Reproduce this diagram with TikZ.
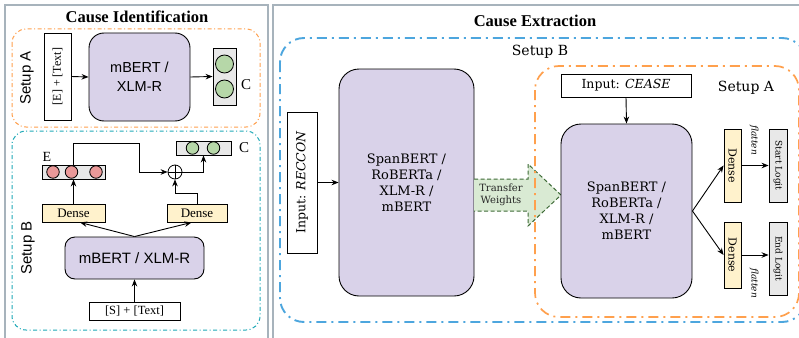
\documentclass[tikz,border=0pt]{standalone}
\usepackage{fontspec}
\setmainfont{Liberation Serif}
\newfontfamily\lsans{Liberation Sans}
\newfontfamily\djserif{DejaVu Serif}
\usetikzlibrary{arrows.meta}

\definecolor{framegray}{HTML}{A7B3BC}
\definecolor{setuporange}{HTML}{FFA04D}
\definecolor{setupteal}{HTML}{1FA9B8}
\definecolor{setupblue}{HTML}{4DA6DE}
\definecolor{lmfill}{HTML}{D9D2E9}
\definecolor{densefill}{HTML}{FFF2CC}
\definecolor{vecfill}{HTML}{E8E8E8}
\definecolor{clsgreen}{HTML}{B6D7A8}
\definecolor{emored}{HTML}{EA9999}
\definecolor{xferfill}{HTML}{D9EAD3}
\definecolor{xferline}{HTML}{3E6B37}

\newcommand{\fs}[1]{\fontsize{#1}{#1}\selectfont}

\tikzset{
  box/.style={draw, line width=0.9pt, inner sep=0pt},
  lm/.style={box, fill=lmfill, rounded corners=#1, align=center},
  lm/.default=14pt,
  dense/.style={box, fill=densefill},
  vec/.style={box, fill=vecfill},
  dot/.style={draw, line width=0.8pt, circle, inner sep=0pt, minimum size=#1},
  arr/.style={-{Stealth[length=7pt,width=5.5pt]}, line width=0.9pt},
  frame/.style={draw=framegray, line width=1.6pt},
  thinsetup/.style={draw=#1, line width=1pt, rounded corners=14pt,
    dash pattern=on 4pt off 2.5pt on 1pt off 2.5pt},
  widesetup/.style={draw=#1, line width=1.9pt, rounded corners=24pt,
    dash pattern=on 10pt off 5pt on 2pt off 5pt},
  lmtext/.style={font={\djserif\fontsize{13}{16}\selectfont}},
}

\begin{document}
\begin{tikzpicture}[x=1pt, y=-1pt]
\useasboundingbox (0,0) rectangle (799,337);
\clip (0,0) rectangle (799,337);
\fill[white] (0,0) rectangle (799,337);

% panels
\draw[frame] (5,5) rectangle (268,345);
\draw[frame] (273,5) rectangle (815,345);

%%% Cause Identification
\node[font=\fs{16.5}\bfseries] (titleL) at (137,17) {Cause Identification};

% setup A
\draw[thinsetup=setuporange] (12,29) rectangle (260,127);
\node[rotate=90, font=\lsans\fs{15}] (labA) at (27,78) {Setup A};

\node[box, rotate=90, minimum width=87, minimum height=27, font=\fs{12}] (inA) at (57.5,76.5) {[E] + [Text]};
\node[lm=15pt, minimum width=101, minimum height=88, font={\lsans\fontsize{14.5}{19}\selectfont}] (bertA) at (139.5,77) {mBERT /\\XLM-R};
\node[vec, minimum width=23, minimum height=57] (clsA) at (224.5,76.5) {};
\node[dot=18, fill=clsgreen] (clsA1) at (224.5,64) {};
\node[dot=18, fill=clsgreen] (clsA2) at (224.5,89) {};
\node[font=\fs{15}] (cA) at (246,85) {C};

\draw[arr] (inA.south) -- (bertA.west);
\draw[arr] (bertA.east) -- (clsA.west);

% setup B
\draw[thinsetup=setupteal] (12,131) rectangle (260,330);
\node[rotate=90, font=\lsans\fs{15}] (labB) at (28,248) {Setup B};

\node[vec, minimum width=63, minimum height=14] (emoVec) at (73.5,172) {};
\node[dot=12.5, fill=emored] (emo1) at (53,172) {};
\node[dot=12.5, fill=emored] (emo2) at (71.5,172) {};
\node[dot=12.5, fill=emored] (emo3) at (96,172) {};
\node[font=\fs{14}] (eB) at (47,157) {E};

\node[vec, minimum width=55, minimum height=14] (clsB) at (203.5,148) {};
\node[dot=12.5, fill=clsgreen] (clsB1) at (192.5,148) {};
\node[dot=12.5, fill=clsgreen] (clsB2) at (213.5,148) {};
\node[font=\fs{15}] (cB) at (244,148) {C};

\node[draw, line width=0.8pt, circle, minimum size=14, inner sep=0pt,
  path picture={\draw[line width=0.8pt] (path picture bounding box.north) -- (path picture bounding box.south)
    (path picture bounding box.west) -- (path picture bounding box.east);}] (plus) at (175,172) {};

\node[dense, minimum width=63, minimum height=18, font=\fs{13}] (denseL) at (73.5,213) {Dense};
\node[dense, minimum width=60, minimum height=18, font=\fs{13}] (denseR) at (197,213) {Dense};
\node[lm=10pt, minimum width=139, minimum height=42, font=\lsans\fs{15}] (bertB) at (134.5,258) {mBERT / XLM-R};
\node[box, minimum width=91, minimum height=18, font=\fs{12.5}] (inB) at (134.5,311) {[S] + [Text]};
\coordinate (kink) at (139,143);

\draw[arr] (inB.north) -- (bertB.south);
\draw[arr] (bertB.north) -- (denseL.-55);
\draw[arr] (bertB.north) -- (denseR.-120);
\draw[arr] (denseL.north) -- (emoVec.south);
\draw[arr] (emoVec.north -| denseL) |- (kink) |- (plus.west);
\draw[arr] (denseR.north) -- ++(0,-10) -| (plus.south);
\draw[arr] (plus.east) -| (clsB.south);

%%% Cause Extraction
\node[font=\fs{16.5}\bfseries] (titleR) at (535,21) {Cause Extraction};

% setup B
\draw[widesetup=setupblue] (280,38) rectangle (806,322);
\node[font=\djserif\fs{14}] (labBR) at (540,52) {Setup B};

\node[box, rotate=90, minimum width=141, minimum height=30, font=\djserif\fs{12.5}] (inRec) at (302,182.5) {Input: \textit{RECCON}};
\node[lm=20pt, minimum width=135, minimum height=227, lmtext] (spanL) at (406.5,182.5)
  {SpanBERT /\\RoBERTa /\\XLM-R /\\mBERT};
\draw[arr] (inRec.south) -- (spanL.west);

% transfer of the weights
\fill[xferfill] (474,179) -- (528,179) -- (528,164) -- (561,195) -- (528,226) -- (528,211) -- (474,211) -- cycle;
\draw[xferline, line width=1pt, dash pattern=on 4pt off 2.5pt]
  (474,179) -- (528,179) -- (528,164) -- (561,195) -- (528,226) -- (528,211) -- (474,211);
\node[align=center, text=black!85, font={\djserif\fontsize{10}{11.5}\selectfont}] (xfer) at (501,195) {Transfer\\Weights};

% setup A
\draw[widesetup=setuporange, line width=1.7pt] (535,66) rectangle (799,317);
\node[font=\djserif\fs{14}] (labAR) at (746,88) {Setup A};

\node[box, minimum width=130, minimum height=23, font=\djserif\fs{12.5}] (inCease) at (626,85.5) {Input: \textit{CEASE}};
\node[lm=20pt, minimum width=131, minimum height=174, lmtext] (spanR) at (626.5,211)
  {SpanBERT /\\RoBERTa /\\XLM-R /\\mBERT};
\draw[arr] (inCease.south) -- (spanR.north);

\node[dense, rotate=-90, minimum width=73, minimum height=17, font=\djserif\fs{11}] (denseS) at (732.5,165.5) {Dense};
\node[vec, rotate=-90, minimum width=73, minimum height=18, font=\djserif\fs{9}] (logitS) at (778,165.5) {Start Logit};
\node[dense, rotate=-90, minimum width=66, minimum height=17, font=\djserif\fs{11}] (denseE) at (732.5,255) {Dense};
\node[vec, rotate=-90, minimum width=73, minimum height=18, font=\djserif\fs{9}] (logitE) at (778,258.5) {End Logit};
\node[rotate=-90, font=\djserif\fs{9}\itshape] (flatS) at (754,140) {flatten};
\node[rotate=-90, font=\djserif\fs{9}\itshape] (flatE) at (754,283) {flatten};

\draw[arr] (spanR.east) -- (denseS.south);
\draw[arr] (spanR.east) -- (denseE.south);
\draw[arr] (denseS.north) -- (logitS.south);
\draw[arr] (denseE.north) -- (denseE.north -| logitE.south);
\end{tikzpicture}
\end{document}
